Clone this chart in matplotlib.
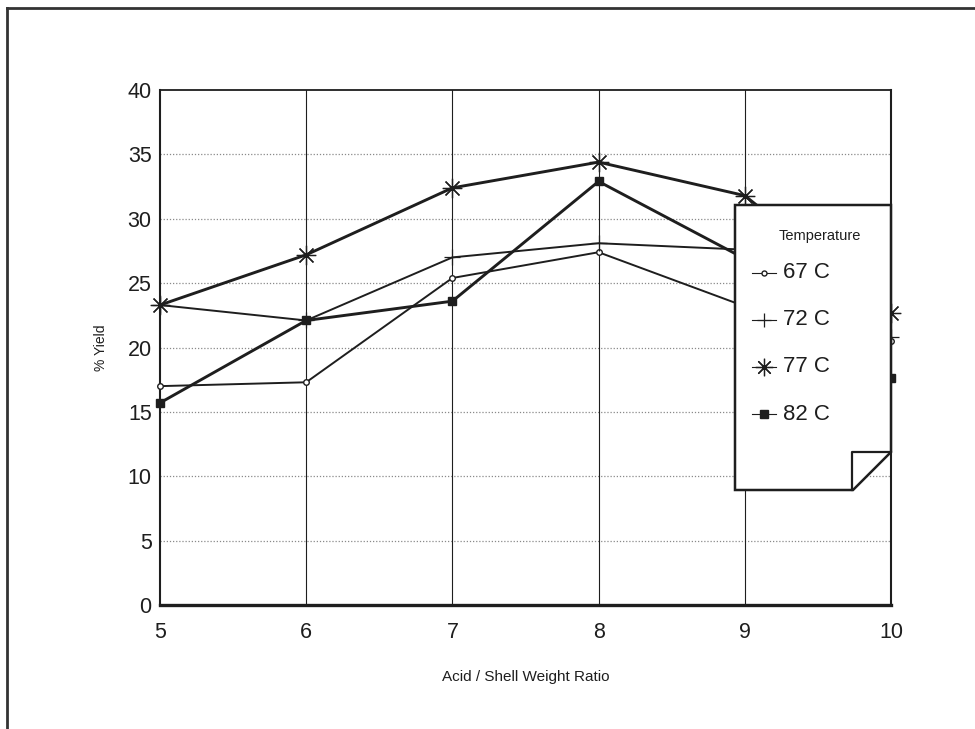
import matplotlib
matplotlib.use("Agg")
import matplotlib.pyplot as plt
from matplotlib.lines import Line2D
from matplotlib.patches import Polygon

plt.rcParams["font.family"] = ["Liberation Sans", "DejaVu Sans"]

# data
ratio = [5, 6, 7, 8, 9, 10]
yield_67 = [17.0, 17.3, 25.4, 27.4, 23.2, 20.5]
yield_72 = [23.3, 22.1, 27.0, 28.1, 27.6, 20.8]
yield_77 = [23.3, 27.2, 32.4, 34.4, 31.8, 22.7]
yield_82 = [15.7, 22.1, 23.6, 32.9, 26.9, 17.6]
series_labels = ["67 C", "72 C", "77 C", "82 C"]
y_ticks = [0, 5, 10, 15, 20, 25, 30, 35, 40]

INK = "#1e1e1e"
styles = [
    dict(marker="o", ms=4, mfc="white", mew=1.0, lw=1.4),
    dict(marker="+", ms=11, mew=0.9, lw=1.4),
    dict(marker=(8, 2, 0), ms=14, mew=0.9, lw=2.1),
    dict(marker="s", ms=6, lw=2.1),
]

fig = plt.figure(figsize=(9.75, 7.29), dpi=100)
ax = fig.add_axes([0.1641, 0.1701, 0.7497, 0.7064])

for ys, st in zip([yield_67, yield_72, yield_77, yield_82], styles):
    ax.plot(ratio, ys, color=INK, mec=INK, clip_on=False, zorder=3, **st)

ax.set_xlim(5, 10)
ax.set_ylim(0, 40)
ax.set_xticks(ratio)
ax.set_yticks(y_ticks)
ax.tick_params(length=0, labelsize=15.5, colors=INK)
ax.tick_params(axis="x", pad=12)
ax.tick_params(axis="y", pad=6)

for y in y_ticks[1:-1]:
    ax.axhline(y, color="#8a8a8a", lw=0.9, ls=(0, (1, 1.5)), zorder=1)
for x in ratio[1:-1]:
    ax.axvline(x, color=INK, lw=0.8, zorder=1)

for side, w in [("left", 1.5), ("right", 1.5), ("top", 1.3), ("bottom", 2.4)]:
    ax.spines[side].set_linewidth(w)
    ax.spines[side].set_color(INK)

ax.set_xlabel("Acid / Shell Weight Ratio", fontsize=11, color=INK, labelpad=20)
ax.set_ylabel("% Yield", fontsize=10, color=INK, labelpad=14)

# legend box with folded corner, in figure pixels
W, H = 975.0, 729.0


def fp(x, y):
    return (x / W, 1 - y / H)


box = Polygon([fp(735, 205), fp(891, 205), fp(891, 452), fp(853, 490), fp(735, 490)],
              closed=True, facecolor="white", edgecolor=INK, lw=1.8,
              transform=fig.transFigure, zorder=10)
fig.patches.append(box)
fold = Line2D([852 / W, 852 / W, 891 / W], [1 - 490 / H, 1 - 452 / H, 1 - 452 / H],
              color=INK, lw=1.6, transform=fig.transFigure, zorder=11)
fig.lines.append(fold)

fig.text(820 / W, 1 - 236 / H, "Temperature", fontsize=10.5, color=INK,
         ha="center", va="center", zorder=12)
for i, (lab, st) in enumerate(zip(series_labels, styles)):
    yy = 1 - (273 + 47 * i) / H
    st = dict(st)
    st["lw"] = 0.8
    st["ms"] = st["ms"] * 0.9
    mk = Line2D([752 / W, 764 / W, 776 / W], [yy, yy, yy], color=INK, mec=INK,
                transform=fig.transFigure, zorder=12, markevery=[1], **st)
    fig.lines.append(mk)
    fig.text(783 / W, yy, lab, fontsize=16, color=INK, ha="left", va="center", zorder=12)

# outer page frame
fig.lines.append(Line2D([7 / W, 1.0], [1 - 8 / H, 1 - 8 / H], color="#333333", lw=2.0,
                        transform=fig.transFigure))
fig.lines.append(Line2D([7 / W, 7 / W], [1 - 8 / H, 0.0], color="#333333", lw=2.0,
                        transform=fig.transFigure))

fig.savefig("out.png", dpi=100, facecolor="white")
